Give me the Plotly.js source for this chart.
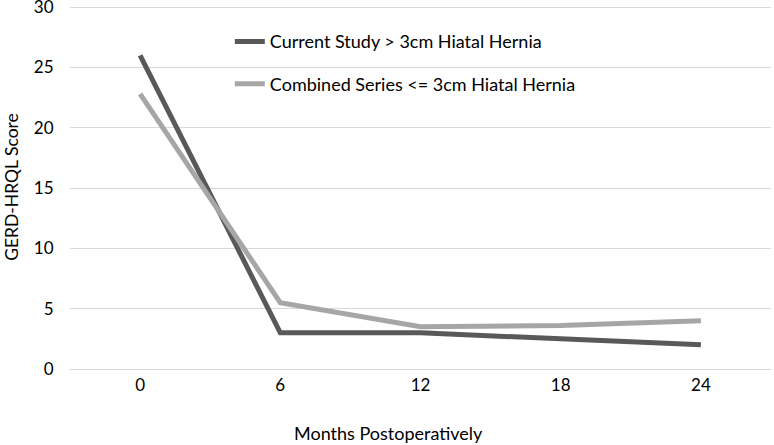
<!DOCTYPE html>
<html>
<head>
<meta charset="utf-8">
<script src="https://cdn.plot.ly/plotly-3.0.1.min.js"></script>
<style>
  html, body { margin: 0; padding: 0; background: #fff; }
  #chart { width: 774px; height: 445px; }
</style>
</head>
<body>
<div id="chart"></div>
<script>
"use strict";

var months = ["0", "6", "12", "18", "24"];
var currentStudy = [26.0, 3.0, 3.0, 2.5, 2.0];
var combinedSeries = [22.8, 5.5, 3.5, 3.6, 4.0];
var seriesNames = ["Current Study > 3cm Hiatal Hernia", "Combined Series <= 3cm Hiatal Hernia"];
var xTitle = "Months Postoperatively";
var yTitle = "GERD-HRQL Score";

var fontFamily = "Lato, 'Open Sans', sans-serif";

var trace1 = {
    x: months,
    y: currentStudy,
    type: "scatter",
    mode: "lines",
    name: seriesNames[0],
    legendgroup: "a",
    line: { color: "#595959", width: 5 }
};

var trace2 = {
    x: months,
    y: combinedSeries,
    type: "scatter",
    mode: "lines",
    name: seriesNames[1],
    legendgroup: "b",
    line: { color: "#a6a6a6", width: 5 }
};

var layout = {
    width: 774,
    height: 445,
    margin: { l: 70, r: 3, t: 5, b: 76 },
    paper_bgcolor: "#ffffff",
    plot_bgcolor: "#ffffff",
    font: { family: fontFamily, size: 17, color: "#000000" },
    showlegend: true,
    legend: {
        x: 0.228,
        y: 0.95,
        xanchor: "left",
        yanchor: "top",
        bgcolor: "rgba(255,255,255,0)",
        font: { family: fontFamily, size: 18, color: "#000000" },
        tracegroupgap: 16
    },
    xaxis: {
        type: "category",
        range: [-0.5, 4.5],
        showgrid: false,
        zeroline: false,
        showline: false,
        ticks: "outside",
        ticklen: 1,
        tickcolor: "rgba(0,0,0,0)"
    },
    yaxis: {
        range: [0, 30.17],
        tickvals: [0, 5, 10, 15, 20, 25, 30],
        ticklabeloverflow: "allow",
        showgrid: true,
        gridcolor: "#d9d9d9",
        gridwidth: 1,
        zeroline: true,
        zerolinecolor: "#d9d9d9",
        zerolinewidth: 1,
        showline: false,
        ticks: "outside",
        ticklen: 12,
        tickcolor: "rgba(0,0,0,0)",
        title: { text: yTitle, standoff: 10, font: { size: 17.5 } }
    },
    annotations: [{
        text: xTitle,
        xref: "paper",
        yref: "paper",
        x: 0.454,
        y: -0.175,
        xanchor: "center",
        yanchor: "middle",
        showarrow: false,
        font: { family: fontFamily, size: 18, color: "#000000" }
    }]
};

Plotly.newPlot("chart", [trace1, trace2], layout, { displayModeBar: false, staticPlot: true });
</script>
</body>
</html>
